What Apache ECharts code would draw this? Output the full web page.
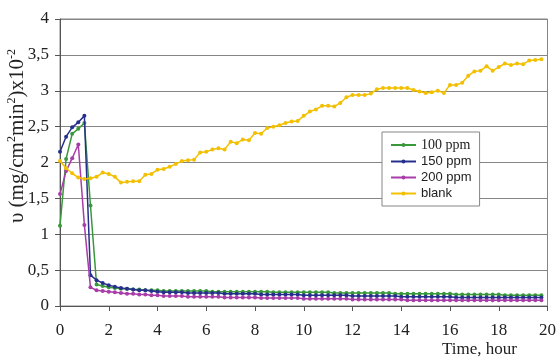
<!DOCTYPE html>
<html>
<head>
<meta charset="utf-8">
<script src="https://cdn.jsdelivr.net/npm/echarts@6/dist/echarts.min.js"></script>
<style>
  html, body { margin: 0; padding: 0; background: #fff; }
  #chart { width: 559px; height: 360px; }
</style>
</head>
<body>
<div id="chart"></div>
<script>
// Sampling times, hours
const hours = [
  0, 0.25, 0.5, 0.75, 1, 1.25, 1.5, 1.75, 2, 2.25,
  2.5, 2.75, 3, 3.25, 3.5, 3.75, 4, 4.25, 4.5, 4.75,
  5, 5.25, 5.5, 5.75, 6, 6.25, 6.5, 6.75, 7, 7.25,
  7.5, 7.75, 8, 8.25, 8.5, 8.75, 9, 9.25, 9.5, 9.75,
  10, 10.25, 10.5, 10.75, 11, 11.25, 11.5, 11.75, 12, 12.25,
  12.5, 12.75, 13, 13.25, 13.5, 13.75, 14, 14.25, 14.5, 14.75,
  15, 15.25, 15.5, 15.75, 16, 16.25, 16.5, 16.75, 17, 17.25,
  17.5, 17.75, 18, 18.25, 18.5, 18.75, 19, 19.25, 19.5, 19.75
];

// Corrosion rate, (mg/cm2 min) x 10^-2
const ppm100 = [
  1.12, 2.05, 2.40, 2.47, 2.55, 1.40, 0.30, 0.28, 0.26, 0.25,
  0.24, 0.24, 0.23, 0.23, 0.22, 0.22, 0.22, 0.21, 0.21, 0.21,
  0.21, 0.21, 0.21, 0.21, 0.21, 0.20, 0.20, 0.20, 0.20, 0.20,
  0.20, 0.20, 0.20, 0.20, 0.20, 0.19, 0.19, 0.19, 0.19, 0.19,
  0.19, 0.19, 0.19, 0.19, 0.19, 0.18, 0.18, 0.18, 0.18, 0.18,
  0.18, 0.18, 0.18, 0.18, 0.18, 0.17, 0.17, 0.17, 0.17, 0.17,
  0.17, 0.17, 0.17, 0.17, 0.17, 0.16, 0.16, 0.16, 0.16, 0.16,
  0.16, 0.16, 0.16, 0.15, 0.15, 0.15, 0.15, 0.15, 0.15, 0.15
];
const ppm150 = [
  2.15, 2.36, 2.49, 2.56, 2.65, 0.43, 0.36, 0.32, 0.29, 0.27,
  0.25, 0.24, 0.23, 0.22, 0.22, 0.21, 0.20, 0.19, 0.19, 0.19,
  0.19, 0.18, 0.18, 0.18, 0.18, 0.18, 0.18, 0.17, 0.17, 0.17,
  0.17, 0.17, 0.17, 0.16, 0.16, 0.16, 0.16, 0.16, 0.16, 0.16,
  0.15, 0.15, 0.15, 0.15, 0.15, 0.15, 0.15, 0.15, 0.14, 0.14,
  0.14, 0.14, 0.14, 0.14, 0.14, 0.14, 0.13, 0.13, 0.13, 0.13,
  0.13, 0.13, 0.13, 0.13, 0.13, 0.12, 0.12, 0.12, 0.12, 0.12,
  0.12, 0.12, 0.12, 0.12, 0.12, 0.12, 0.12, 0.12, 0.12, 0.12
];
const ppm200 = [
  1.56, 1.88, 2.06, 2.25, 1.13, 0.26, 0.22, 0.21, 0.20, 0.19,
  0.18, 0.17, 0.17, 0.16, 0.16, 0.15, 0.15, 0.14, 0.14, 0.14,
  0.14, 0.13, 0.13, 0.13, 0.13, 0.13, 0.13, 0.12, 0.12, 0.12,
  0.12, 0.12, 0.12, 0.11, 0.11, 0.11, 0.11, 0.11, 0.11, 0.11,
  0.10, 0.10, 0.10, 0.10, 0.10, 0.10, 0.10, 0.10, 0.09, 0.09,
  0.09, 0.09, 0.09, 0.09, 0.09, 0.09, 0.09, 0.08, 0.08, 0.08,
  0.08, 0.08, 0.08, 0.08, 0.08, 0.08, 0.08, 0.08, 0.08, 0.08,
  0.08, 0.08, 0.08, 0.08, 0.08, 0.08, 0.08, 0.08, 0.08, 0.08
];
const blank = [
  2.02, 1.92, 1.85, 1.79, 1.77, 1.78, 1.80, 1.86, 1.84, 1.80,
  1.72, 1.73, 1.74, 1.74, 1.83, 1.84, 1.90, 1.91, 1.94, 1.98,
  2.02, 2.03, 2.04, 2.14, 2.15, 2.18, 2.20, 2.18, 2.29, 2.27,
  2.32, 2.31, 2.41, 2.40, 2.48, 2.50, 2.52, 2.55, 2.57, 2.58,
  2.65, 2.71, 2.74, 2.79, 2.79, 2.78, 2.83, 2.91, 2.94, 2.94,
  2.94, 2.96, 3.02, 3.04, 3.04, 3.04, 3.04, 3.04, 3.01, 2.99,
  2.97, 2.98, 3.00, 2.97, 3.08, 3.08, 3.11, 3.21, 3.27, 3.28,
  3.34, 3.28, 3.33, 3.38, 3.36, 3.38, 3.37, 3.42, 3.43, 3.44
];

const seriesNames = ['100 ppm', '150 ppm', '200 ppm', 'blank'];
const seriesValues = [ppm100, ppm150, ppm200, blank];
const seriesColors = ['#38983a', '#26308c', '#a83ca8', '#f2c000'];

const serif = 'Liberation Serif';
const sans = 'Liberation Sans';

const chart = echarts.init(document.getElementById('chart'), null, { renderer: 'canvas' });

chart.setOption({
  animation: false,
  backgroundColor: '#ffffff',
  grid: {
    left: 60, right: 8, top: 19, bottom: 54,
    show: true, borderColor: '#858585', borderWidth: 1
  },
  legend: {
    orient: 'vertical',
    left: 382, top: 132,
    padding: [6, 8, 6, 8],
    itemGap: 3,
    itemWidth: 25, itemHeight: 5,
    backgroundColor: '#ffffff',
    borderColor: '#858585', borderWidth: 1, borderRadius: 0,
    data: seriesNames,
    formatter: function (name) {
      return name === '100 ppm' ? '{tm|' + name + '}' : '{ar|' + name + '}';
    },
    textStyle: {
      fontSize: 13, color: '#222',
      rich: {
        tm: { fontFamily: serif, fontSize: 14, color: '#222' },
        ar: { fontFamily: sans, fontSize: 13, color: '#222' }
      }
    }
  },
  xAxis: {
    type: 'value', min: 0, max: 20, interval: 2,
    axisLine: { show: true, onZero: false, lineStyle: { color: '#555', width: 1 } },
    axisTick: { show: true, inside: false, length: 5, lineStyle: { color: '#555' } },
    axisLabel: { fontFamily: serif, fontSize: 17, color: '#222', margin: 16 },
    splitLine: { show: false }
  },
  yAxis: {
    type: 'value', min: 0, max: 4, interval: 0.5,
    axisLine: { show: true, lineStyle: { color: '#555', width: 1 } },
    axisTick: { show: true, inside: false, length: 5, lineStyle: { color: '#555' } },
    axisLabel: {
      fontFamily: serif, fontSize: 17, color: '#222', margin: 11,
      formatter: function (v) { return String(v).replace('.', ','); }
    },
    splitLine: { show: true, lineStyle: { color: '#858585', width: 1 } }
  },
  graphic: [
    {
      type: 'text',
      x: 17, y: 136,
      rotation: Math.PI / 2,
      style: {
        text: '{t|υ (mg/cm}{s|2}{t|min}{s|2}{t|)x10}{s|-2}',
        align: 'center', verticalAlign: 'middle',
        fill: '#222',
        rich: {
          t: { fontFamily: serif, fontSize: 21, fill: '#222', verticalAlign: 'bottom', lineHeight: 22 },
          s: { fontFamily: serif, fontSize: 12, fill: '#222', verticalAlign: 'top', lineHeight: 22 }
        }
      }
    },
    {
      type: 'text',
      left: 442, top: 341,
      style: { text: 'Time, hour', fontFamily: serif, fontSize: 17, fill: '#222' }
    }
  ],
  series: seriesNames.map(function (name, i) {
    return {
      name: name,
      type: 'line',
      data: hours.map(function (h, j) { return [h, seriesValues[i][j]]; }),
      symbol: 'circle',
      symbolSize: 4,
      showSymbol: true,
      lineStyle: { color: seriesColors[i], width: 1.5 },
      itemStyle: { color: seriesColors[i] },
      z: 2 + i
    };
  })
});
</script>
</body>
</html>
